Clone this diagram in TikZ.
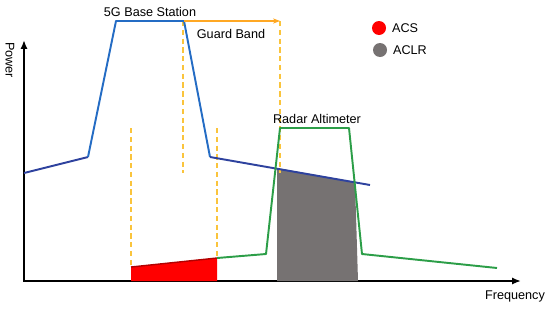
\documentclass[tikz,border=0pt]{standalone}
\usepackage{fontspec}
\setmainfont{Liberation Sans}
\usetikzlibrary{positioning,arrows.meta}

\definecolor{bsblue}{RGB}{36,108,196}
\definecolor{bsnavy}{RGB}{46,66,158}
\definecolor{ragreen}{RGB}{44,158,72}
\definecolor{gbyellow}{RGB}{250,196,60}
\definecolor{gborange}{RGB}{255,168,36}
\definecolor{aclrgray}{RGB}{118,114,114}

\begin{document}
\begin{tikzpicture}[x=0.02cm,y=-0.02cm,
  lbl/.style={font=\fontsize{7.2}{8.6}\selectfont,inner sep=1pt},
  axis/.style={{Latex[length=5pt,width=4pt]}-{Latex[length=5pt,width=4pt]},line width=1.1pt},
  bsline/.style={bsblue,line width=1.1pt,line join=round},
  raline/.style={ragreen,line width=1.1pt,line join=round},
  gbdash/.style={gbyellow,line width=0.6pt,dash pattern=on 3pt off 2pt},
  gbarrow/.style={-{Stealth[length=4pt,width=3pt]},gborange,line width=0.8pt},
  dot/.style={circle,inner sep=0pt,minimum size=14*0.02cm},
]
\useasboundingbox (0,0) rectangle (550,308);

% Axes
\coordinate (origin) at (24,281);
\coordinate (ytip) at (24,40);
\coordinate (xtip) at (521,281);
\draw[axis] (ytip) -- (origin) -- (xtip);
\node[lbl,rotate=-90] (power) at (10,60) {Power};
\node[lbl] (freq) at (515,296) {Frequency};

% ACS and ACLR areas
\fill[red] (131,281) -- (131,267) -- (217,258) -- (217,281) -- cycle;
\draw[red!70!black,line width=0.8pt] (131,267) -- (217,258);
\fill[aclrgray] (277,281) -- (277,168) -- (355,182) -- (358,281) -- cycle;

% Guard band markers
\draw[gbdash] (131,128) -- (131,267);
\draw[gbdash] (217,128) -- (217,258);
\draw[gbdash] (183,21) -- (183,173);
\draw[gbdash] (280,21) -- (280,173);

% 5G base station spectrum
\draw[bsnavy,line width=1.1pt] (24,173) -- (88,157);
\draw[bsline] (88,157) -- (116,21) -- (184,21) -- (210,157);
\draw[bsnavy,line width=1.1pt] (210,157) -- (370,185);
\node[lbl] (bs) at (150,12) {5G Base Station};

% Radar altimeter spectrum
\draw[raline] (217,258) -- (266,254) -- (280,128) -- (349,128) -- (362,254) -- (497,268);
\node[lbl] (ra) at (317,119) {Radar Altimeter};

% Guard band
\coordinate (gbL) at (184,21);
\coordinate (gbR) at (280,21);
\draw[gbarrow] (gbL) -- (gbR);
\node[lbl] (gb) at (231,34) {Guard Band};

% Legend
\node[dot,fill=red] (acsdot) at (379,28) {};
\node[lbl,anchor=west] (acs) at (390,28) {ACS};
\node[dot,fill=aclrgray] (aclrdot) at (380,50) {};
\node[lbl,anchor=west] (aclr) at (391,50) {ACLR};

\end{tikzpicture}
\end{document}
